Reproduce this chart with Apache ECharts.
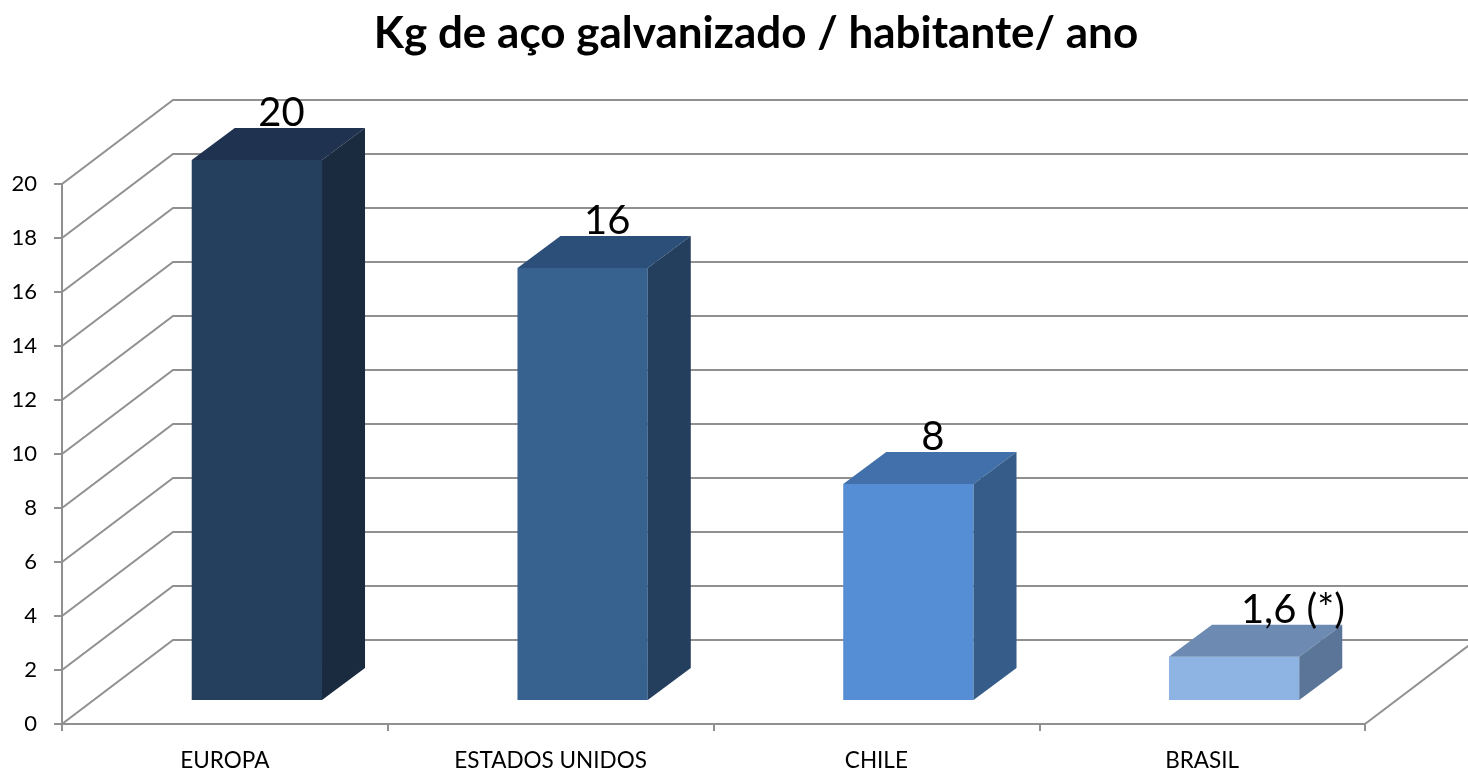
<!DOCTYPE html>
<html>
<head>
<meta charset="utf-8">
<script src="https://cdn.jsdelivr.net/npm/echarts@6/dist/echarts.min.js"></script>
<style>
  html, body { margin: 0; padding: 0; background: #fff; }
  #chart { width: 1468px; height: 772px; }
</style>
</head>
<body>
<div id="chart"></div>
<script>
// dados
var categories = ['EUROPA', 'ESTADOS UNIDOS', 'CHILE', 'BRASIL'];
var values = [20, 16, 8, 1.6];
var notes = ['', '', '', ' (*)'];
var yTicks = [0, 2, 4, 6, 8, 10, 12, 14, 16, 18, 20];

// cores das faces: frente, topo, lado
var faces = [
  ['#253f5f', '#1f3250', '#1a2a3f'],
  ['#37618f', '#2c4f7a', '#243e5e'],
  ['#558ed5', '#4170aa', '#365d8a'],
  ['#8eb4e3', '#6c8ab2', '#5a7597']
];

var FONT = 'Lato';
var WALL_DX = 111, WALL_DY = -84;   // profundidade das paredes
var SHIFT_DX = 32, SHIFT_DY = -24;  // recuo da barra
var BAR_DX = 43, BAR_DY = -32;      // profundidade da barra
var GRID_COLOR = '#909090';

var ctx = document.createElement('canvas').getContext('2d');
ctx.font = '40px ' + FONT;

var myChart = echarts.init(document.getElementById('chart'));
myChart.setOption({
  animation: false,
  title: {
    text: 'Kg de aço galvanizado / habitante/ ano',
    left: 751,
    textAlign: 'center',
    top: 7,
    textStyle: { fontFamily: FONT, fontWeight: 'bold', fontSize: 44, color: '#000' }
  },
  grid: { left: 62, right: 103, top: 184, bottom: 46 },
  xAxis: {
    type: 'category',
    data: categories,
    boundaryGap: true,
    axisLine: { lineStyle: { color: GRID_COLOR, width: 2 } },
    axisTick: { show: true, length: 7, lineStyle: { color: GRID_COLOR, width: 2 } },
    axisLabel: { fontFamily: FONT, fontSize: 22.5, color: '#000', margin: 25 },
    splitLine: { show: false }
  },
  yAxis: {
    type: 'value',
    min: 0,
    max: 20,
    interval: 2,
    axisLine: { show: true, lineStyle: { color: GRID_COLOR, width: 2 } },
    axisTick: { show: true, length: 8, lineStyle: { color: GRID_COLOR, width: 2 } },
    axisLabel: { fontFamily: FONT, fontSize: 22, color: '#000', margin: 25 },
    splitLine: { show: false }
  },
  series: [
    {
      // linhas de grade nas paredes lateral e do fundo
      type: 'custom',
      silent: true,
      z: 1,
      data: yTicks.map(function (t) { return [0, t]; }),
      renderItem: function (params, api) {
        var cs = params.coordSys;
        var t = api.value(1);
        var y = api.coord([0, t])[1];
        var pts = [
          [cs.x, y],
          [cs.x + WALL_DX, y + WALL_DY],
          [cs.x + cs.width + WALL_DX + 20, y + WALL_DY]
        ];
        var children = [{
          type: 'polyline',
          shape: { points: pts },
          style: { stroke: GRID_COLOR, lineWidth: 2, fill: null }
        }];
        if (t === 0) {
          children.push({
            type: 'line',
            shape: { x1: cs.x + cs.width, y1: y, x2: cs.x + cs.width + WALL_DX, y2: y + WALL_DY },
            style: { stroke: GRID_COLOR, lineWidth: 2 }
          });
        }
        return { type: 'group', children: children };
      }
    },
    {
      // barras 3D
      type: 'custom',
      z: 2,
      data: values.map(function (v, i) { return [i, v]; }),
      renderItem: function (params, api) {
        var i = api.value(0);
        var v = api.value(1);
        var base = api.coord([i, 0]);
        var top = api.coord([i, v]);
        var bw = api.size([1, 0])[0] * 0.4;
        var x0 = base[0] - bw / 2 + SHIFT_DX;
        var x1 = x0 + bw;
        var yb = base[1] + SHIFT_DY;
        var yt = top[1] + SHIFT_DY;
        var c = faces[i];
        var num = String(v).replace('.', ',');
        var numW = ctx.measureText(num).width;
        var cx = x0 + bw / 2 + BAR_DX / 2 + 3;
        if (notes[i]) cx += 10;
        return {
          type: 'group',
          children: [
            {
              type: 'rect',
              shape: { x: x0, y: yt, width: bw, height: yb - yt },
              style: { fill: c[0] }
            },
            {
              type: 'polygon',
              shape: { points: [[x0, yt], [x1, yt], [x1 + BAR_DX, yt + BAR_DY], [x0 + BAR_DX, yt + BAR_DY]] },
              style: { fill: c[1] }
            },
            {
              type: 'polygon',
              shape: { points: [[x1, yt], [x1 + BAR_DX, yt + BAR_DY], [x1 + BAR_DX, yb + BAR_DY], [x1, yb]] },
              style: { fill: c[2] }
            },
            {
              type: 'text',
              style: {
                text: num + notes[i],
                x: cx - numW / 2,
                y: yt + BAR_DY - 15,
                textAlign: 'left',
                textVerticalAlign: 'middle',
                fill: '#000',
                fontFamily: FONT,
                fontSize: 40
              }
            }
          ]
        };
      }
    }
  ]
});
</script>
</body>
</html>
